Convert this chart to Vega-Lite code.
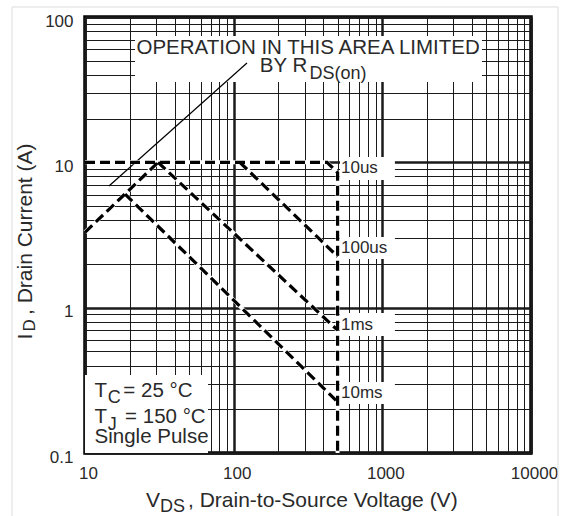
{
  "$schema": "https://vega.github.io/schema/vega-lite/v6.json",
  "width": 446,
  "height": 436,
  "autosize": "none",
  "padding": {"left": 85, "top": 17, "right": 34, "bottom": 63},
  "background": "white",
  "config": {
    "font": "Liberation Sans",
    "view": {"stroke": "black", "strokeWidth": 3.5}
  },
  "datasets": {
    "frame": [
      {"V": 3.23, "V2": 15192, "I": 117.2, "I2": 0.03}
    ],
    "boxes": [
      {"box": "note", "V": 21.7, "V2": 4680, "I": 74.0, "I2": 35.7},
      {"box": "cond", "V": 10, "V2": 67.2, "I": 0.344, "I2": 0.1},
      {"box": "10us", "V": 519, "V2": 1215, "I": 10.9, "I2": 7.56},
      {"box": "100us", "V": 519, "V2": 1215, "I": 3.06, "I2": 2.16},
      {"box": "1ms", "V": 519, "V2": 1215, "I": 0.919, "I2": 0.638},
      {"box": "10ms", "V": 519, "V2": 1215, "I": 0.308, "I2": 0.217}
    ],
    "pointer": [
      {"V": 14.5, "I": 6.87},
      {"V": 122.9, "I": 48.3}
    ],
    "curves": [
      {"curve": "RDS", "seq": 1, "V": 10, "I": 3.3},
      {"curve": "RDS", "seq": 2, "V": 31, "I": 10},
      {"curve": "10us", "seq": 1, "V": 10, "I": 10},
      {"curve": "10us", "seq": 2, "V": 425, "I": 10},
      {"curve": "10us", "seq": 3, "V": 500, "I": 8.5},
      {"curve": "10us", "seq": 4, "V": 500, "I": 0.1},
      {"curve": "100us", "seq": 1, "V": 110, "I": 10},
      {"curve": "100us", "seq": 2, "V": 500, "I": 2.25},
      {"curve": "1ms", "seq": 1, "V": 31, "I": 10},
      {"curve": "1ms", "seq": 2, "V": 500, "I": 0.7},
      {"curve": "10ms", "seq": 1, "V": 18.6, "I": 6.05},
      {"curve": "10ms", "seq": 2, "V": 500, "I": 0.225}
    ],
    "texts": [
      {"role": "note", "text": "OPERATION IN THIS AREA LIMITED", "V": 22.2, "I": 55.6},
      {"role": "note", "text": "BY R", "V": 150, "I": 41.8},
      {"role": "note", "text": "T", "V": 11.6, "I": 0.2428},
      {"role": "note", "text": "= 25 °C", "V": 18.1, "I": 0.2428},
      {"role": "note", "text": "T", "V": 11.6, "I": 0.1609},
      {"role": "note", "text": "= 150 °C", "V": 18.6, "I": 0.1609},
      {"role": "note", "text": "Single Pulse", "V": 11.6, "I": 0.1171},
      {"role": "sub", "text": "DS(on)", "V": 324, "I": 37.7},
      {"role": "sub", "text": "C", "V": 14.2, "I": 0.2198},
      {"role": "sub", "text": "J", "V": 14.2, "I": 0.145},
      {"role": "curve", "text": "10us", "V": 527, "I": 8.45},
      {"role": "curve", "text": "100us", "V": 527, "I": 2.38},
      {"role": "curve", "text": "1ms", "V": 527, "I": 0.702},
      {"role": "curve", "text": "10ms", "V": 527, "I": 0.239},
      {"role": "xtitle", "text": "V", "V": 25.7, "I": 0.1},
      {"role": "xtitle", "text": ", Drain-to-Source Voltage (V)", "V": 49.3, "I": 0.1},
      {"role": "xsub", "text": "DS", "V": 31.96, "I": 0.1},
      {"role": "ytitle", "text": "I", "V": 10, "I": 0.604},
      {"role": "ytitle", "text": ", Drain Current (A)", "V": 10, "I": 0.89},
      {"role": "ysub", "text": "D", "V": 10, "I": 0.686}
    ]
  },
  "encoding": {
    "x": {
      "field": "V",
      "type": "quantitative",
      "scale": {"type": "log", "domain": [10, 10000], "nice": false},
      "axis": {
        "title": null,
        "values": [10, 20, 30, 40, 50, 60, 70, 80, 90, 100, 200, 300, 400, 500, 600, 700, 800, 900, 1000, 2000, 3000, 4000, 5000, 6000, 7000, 8000, 9000, 10000],
        "grid": true,
        "gridColor": "#1a1a1a",
        "gridWidth": {"condition": {"test": "indexof([10, 100, 1000, 10000], datum.value) >= 0", "value": 2.5}, "value": 1},
        "ticks": false,
        "tickSize": 0,
        "domain": false,
        "labelExpr": "indexof([10, 100, 1000, 10000], datum.value) >= 0 ? format(datum.value, 'd') : ''",
        "labelFont": "Liberation Sans",
        "labelFontSize": 17,
        "labelColor": "#2a2a2a",
        "labelPadding": 12.5,
        "labelOffset": 3,
        "labelOverlap": false,
        "labelFlush": false,
        "labelBound": false
      }
    },
    "y": {
      "field": "I",
      "type": "quantitative",
      "scale": {"type": "log", "domain": [0.1, 100], "nice": false},
      "axis": {
        "title": null,
        "values": [0.1, 0.2, 0.3, 0.4, 0.5, 0.6, 0.7, 0.8, 0.9, 1, 2, 3, 4, 5, 6, 7, 8, 9, 10, 20, 30, 40, 50, 60, 70, 80, 90, 100],
        "grid": true,
        "gridColor": "#1a1a1a",
        "gridWidth": {"condition": {"test": "indexof([0.1, 1, 10, 100], datum.value) >= 0", "value": 2.5}, "value": 1},
        "ticks": false,
        "tickSize": 0,
        "domain": false,
        "labelExpr": "indexof([0.1, 1, 10, 100], datum.value) >= 0 ? format(datum.value, '~g') : ''",
        "labelFont": "Liberation Sans",
        "labelFontSize": 17,
        "labelColor": "#2a2a2a",
        "labelPadding": 12,
        "labelOffset": 4,
        "labelOverlap": false,
        "labelFlush": false,
        "labelBound": false
      }
    }
  },
  "layer": [
    {
      "data": {"name": "frame"},
      "mark": {"type": "rect", "fillOpacity": 0, "stroke": "#dcdcdc", "strokeWidth": 1},
      "encoding": {"x2": {"field": "V2"}, "y2": {"field": "I2"}}
    },
    {
      "data": {"name": "boxes"},
      "mark": {"type": "rect", "fill": "white"},
      "encoding": {"x2": {"field": "V2"}, "y2": {"field": "I2"}}
    },
    {
      "data": {"name": "pointer"},
      "mark": {"type": "line", "color": "black", "strokeWidth": 1.2},
      "encoding": {}
    },
    {
      "data": {"name": "curves"},
      "mark": {"type": "line", "color": "white", "strokeWidth": 4},
      "encoding": {"detail": {"field": "curve"}, "order": {"field": "seq"}}
    },
    {
      "data": {"name": "curves"},
      "mark": {"type": "line", "color": "black", "strokeWidth": 3.2, "strokeDash": [10, 5]},
      "encoding": {"detail": {"field": "curve"}, "order": {"field": "seq"}}
    },
    {
      "data": {"name": "texts"},
      "transform": [{"filter": "datum.role === 'note'"}],
      "mark": {"type": "text", "align": "left", "baseline": "alphabetic", "fontSize": 20.5, "color": "#2a2a2a"},
      "encoding": {"text": {"field": "text"}}
    },
    {
      "data": {"name": "texts"},
      "transform": [{"filter": "datum.role === 'sub'"}],
      "mark": {"type": "text", "align": "left", "baseline": "alphabetic", "fontSize": 18, "color": "#2a2a2a"},
      "encoding": {"text": {"field": "text"}}
    },
    {
      "data": {"name": "texts"},
      "transform": [{"filter": "datum.role === 'curve'"}],
      "mark": {"type": "text", "align": "left", "baseline": "alphabetic", "fontSize": 17, "color": "#2a2a2a"},
      "encoding": {"text": {"field": "text"}}
    },
    {
      "data": {"name": "texts"},
      "transform": [{"filter": "datum.role === 'xtitle'"}],
      "mark": {"type": "text", "align": "left", "baseline": "alphabetic", "fontSize": 21, "dy": 54, "color": "#2a2a2a"},
      "encoding": {"text": {"field": "text"}}
    },
    {
      "data": {"name": "texts"},
      "transform": [{"filter": "datum.role === 'xsub'"}],
      "mark": {"type": "text", "align": "left", "baseline": "alphabetic", "fontSize": 18, "dy": 59, "color": "#2a2a2a"},
      "encoding": {"text": {"field": "text"}}
    },
    {
      "data": {"name": "texts"},
      "transform": [{"filter": "datum.role === 'ytitle'"}],
      "mark": {"type": "text", "align": "left", "baseline": "alphabetic", "angle": 270, "fontSize": 21, "dy": -53, "color": "#2a2a2a"},
      "encoding": {"text": {"field": "text"}}
    },
    {
      "data": {"name": "texts"},
      "transform": [{"filter": "datum.role === 'ysub'"}],
      "mark": {"type": "text", "align": "left", "baseline": "alphabetic", "angle": 270, "fontSize": 17, "dy": -50, "color": "#2a2a2a"},
      "encoding": {"text": {"field": "text"}}
    }
  ]
}
